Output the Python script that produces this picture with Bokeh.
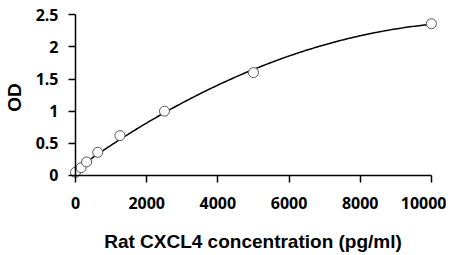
import numpy as np
from bokeh.plotting import figure
from bokeh.models import Range1d, FixedTicker, LinearAxis
from bokeh.embed import file_html
from bokeh.resources import INLINE

# data
conc = [0, 156, 312, 625, 1250, 2500, 5000, 10000]
od = [0.05, 0.12, 0.21, 0.36, 0.62, 1.00, 1.60, 2.36]
x_ticks = [0, 2000, 4000, 6000, 8000, 10000]
x_tick_labels = ["0", "2000", "4000", "6000", "8000", "10000"]
y_ticks = [0, 0.5, 1, 1.5, 2, 2.5]
y_tick_labels = ["0", "0.5", "1", "1.5", "2", "2.5"]
x_title = "Rat CXCL4 concentration (pg/ml)"
y_title = "OD"

# fitted standard curve (2nd order polynomial trendline of the standards)
coef = np.polyfit(conc, od, 2)
fit_x = np.linspace(0, 10000, 200)
fit_y = np.polyval(coef, fit_x)

p = figure(output_backend="svg", toolbar_location=None,
           frame_width=371, frame_height=172,
           min_border_left=65, min_border_right=8,
           min_border_top=11, min_border_bottom=62,
           x_range=Range1d(-225, 10200), y_range=Range1d(-0.125, 2.55))
p.outline_line_color = None
p.grid.visible = False
p.background_fill_color = "white"

p.line(fit_x, fit_y, line_color="black", line_width=1.5)
p.scatter(conc, od, size=10, fill_color="white", line_color="#555555", line_width=1)

# label axes at the frame edges (labels only)
for ax, ticks, labels in ((p.xaxis[0], x_ticks, x_tick_labels), (p.yaxis[0], y_ticks, y_tick_labels)):
    ax.ticker = FixedTicker(ticks=ticks)
    ax.major_label_overrides = {t: l for t, l in zip(ticks, labels)}
    ax.minor_tick_line_color = None
    ax.major_tick_line_color = None
    ax.axis_line_color = None
    ax.major_tick_in = 0
    ax.major_tick_out = 0
    ax.major_label_text_font = "Open Sans"
    ax.major_label_text_font_style = "bold"
    ax.major_label_text_font_size = "16px"
    ax.major_label_text_color = "black"
    ax.axis_label_text_font = "Liberation Sans"
    ax.axis_label_text_font_style = "bold"
    ax.axis_label_text_font_size = "19px"
    ax.axis_label_text_color = "black"

p.xaxis[0].axis_label = x_title
p.yaxis[0].axis_label = y_title
p.xaxis[0].major_label_standoff = 13
p.yaxis[0].major_label_standoff = 9
p.xaxis[0].axis_label_standoff = 19
p.yaxis[0].axis_label_standoff = 8

# axis lines and ticks drawn at the data origin
for place, ticks, bounds in (("below", x_ticks, (0, 10000)), ("left", y_ticks, (0, 2.5))):
    ax = LinearAxis(ticker=FixedTicker(ticks=ticks), bounds=bounds, fixed_location=0)
    ax.minor_tick_line_color = None
    ax.major_tick_in = 0
    ax.major_tick_out = 7
    ax.axis_line_color = "black"
    ax.axis_line_width = 1.5
    ax.major_tick_line_width = 1.5
    ax.major_tick_line_color = "black"
    ax.major_label_text_font_size = "1px"
    ax.major_label_text_alpha = 0
    ax.major_label_standoff = 0
    p.add_layout(ax, place)

open("out.html", "w").write(file_html(p, INLINE))
